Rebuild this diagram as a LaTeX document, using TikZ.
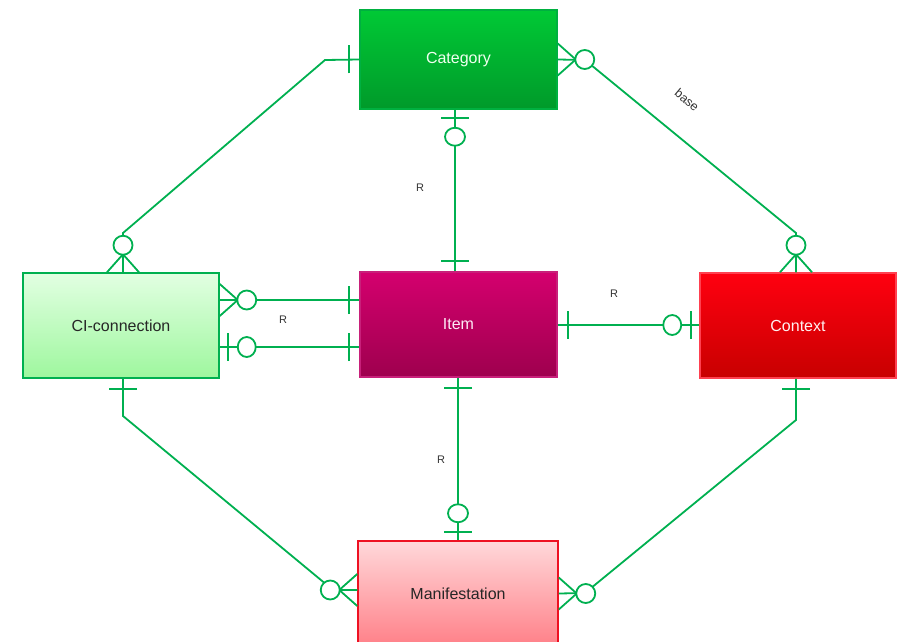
\documentclass[tikz,border=0pt]{standalone}
\usepackage{fontspec}
\setmainfont{Liberation Sans}
\definecolor{lnk}{HTML}{00B050}
\definecolor{catTop}{HTML}{00C935}
\definecolor{catBot}{HTML}{009A2A}
\definecolor{catLine}{HTML}{00B040}
\definecolor{ciTop}{HTML}{E2FFE2}
\definecolor{ciBot}{HTML}{9EF79E}
\definecolor{itemTop}{HTML}{D4006E}
\definecolor{itemBot}{HTML}{9E004E}
\definecolor{itemLine}{HTML}{C8207A}
\definecolor{ctxTop}{HTML}{FF0010}
\definecolor{ctxBot}{HTML}{C80000}
\definecolor{ctxLine}{HTML}{FF4050}
\definecolor{manTop}{HTML}{FFD8DA}
\definecolor{manBot}{HTML}{FF8088}
\definecolor{manLine}{HTML}{EE1122}
\begin{document}
\begin{tikzpicture}[x=1pt,y=-1pt,
  every node/.style={inner sep=0pt},
  ent/.style={draw, line width=1.5pt, minimum width=196pt, minimum height=105pt,
    font=\fontsize{16}{19}\selectfont},
  rel/.style={draw=lnk, line width=1.8pt},
  lbl/.style={font=\fontsize{11}{13}\selectfont, text=black!80},
  barmark/.pic={\draw[rel] (10,-14) -- (10,14);},
  ringbar/.pic={\draw[rel] (8,-14) -- (8,14); \draw[rel, fill=white] (27,0) circle[x radius=9pt, y radius=10pt];},
  ringcrow/.pic={\draw[rel] (0,-16) -- (18,0) -- (0,16); \draw[rel, fill=white] (27,0) circle[radius=9.5pt];}]
\useasboundingbox (0,0) rectangle (897,642);
\node[ent, minimum width=197pt, minimum height=99pt, draw=catLine, top color=catTop, bottom color=catBot, text=white!94!green] (cat) at (458.5,59.5) {Category};
\node[ent, draw=lnk, top color=ciTop, bottom color=ciBot, text=black!85] (ci) at (121,325.5) {CI-connection};
\node[ent, minimum width=197pt, draw=itemLine, top color=itemTop, bottom color=itemBot, text=white!92!magenta] (item) at (458.5,324.5) {Item};
\node[ent, draw=ctxLine, top color=ctxTop, bottom color=ctxBot, text=white!95!red] (ctx) at (798,325.5) {Context};
\node[ent, minimum width=200pt, draw=manLine, top color=manTop, bottom color=manBot, text=black!85] (man) at (458,593.5) {Manifestation};
\draw[rel] (cat.west) -- (325,60) -- (123,233) -- ([xshift=2pt]ci.north);
\draw[rel] (cat.east) -- (585,60) -- (796,233) -- ([xshift=-2pt]ctx.north);
\draw[rel] ([xshift=-3.5pt]cat.south) -- ([xshift=-3.5pt]item.north);
\draw[rel] ([yshift=25.5pt]ci.east) -- ([yshift=25.5pt]ci.east -| item.west);
\draw[rel] ([yshift=-21.5pt]ci.east) -- ([yshift=-21.5pt]ci.east -| item.west);
\draw[rel] ([yshift=-0.5pt]item.east) -- ([yshift=-0.5pt]item.east -| ctx.west);
\draw[rel] ([xshift=-0.5pt]item.south) -- ([xshift=-0.5pt]item.south |- man.north);
\draw[rel] ([xshift=2pt]ci.south) -- (123,416) -- (333,590) -- ([yshift=3.5pt]man.west);
\draw[rel] ([xshift=-2pt]ctx.south) -- (796,420) -- (585,593) -- (man.east);
\pic[rotate=180] at (cat.west) {barmark};
\pic[rotate=90] at ([xshift=2pt]ci.north) {ringcrow};
\pic at (cat.east) {ringcrow};
\pic[rotate=90] at ([xshift=-2pt]ctx.north) {ringcrow};
\pic[rotate=-90] at ([xshift=-3.5pt]cat.south) {ringbar};
\pic[rotate=90] at ([xshift=-3.5pt]item.north) {barmark};
\pic at ([yshift=25.5pt]ci.east) {ringcrow};
\pic[rotate=180] at ([yshift=25.5pt]ci.east -| item.west) {barmark};
\pic at ([yshift=-21.5pt]ci.east) {ringbar};
\pic[rotate=180] at ([yshift=-21.5pt]ci.east -| item.west) {barmark};
\pic at ([yshift=-0.5pt]item.east) {barmark};
\pic[rotate=180] at ([yshift=-0.5pt]item.east -| ctx.west) {ringbar};
\pic[rotate=-90] at ([xshift=-0.5pt]item.south) {barmark};
\pic[rotate=90] at ([xshift=-0.5pt]item.south |- man.north) {ringbar};
\pic[rotate=-90] at ([xshift=2pt]ci.south) {barmark};
\pic[rotate=180] at ([yshift=3.5pt]man.west) {ringcrow};
\pic[rotate=-90] at ([xshift=-2pt]ctx.south) {barmark};
\pic at (man.east) {ringcrow};
\node[lbl] (rcat) at (420,188) {R};
\node[lbl] (rci) at (283,320) {R};
\node[lbl] (rctx) at (614,294) {R};
\node[lbl] (rman) at (441,460) {R};
\node[lbl, font=\fontsize{12.5}{14}\selectfont, rotate=-40] (base) at (687,100) {base};
\end{tikzpicture}
\end{document}
